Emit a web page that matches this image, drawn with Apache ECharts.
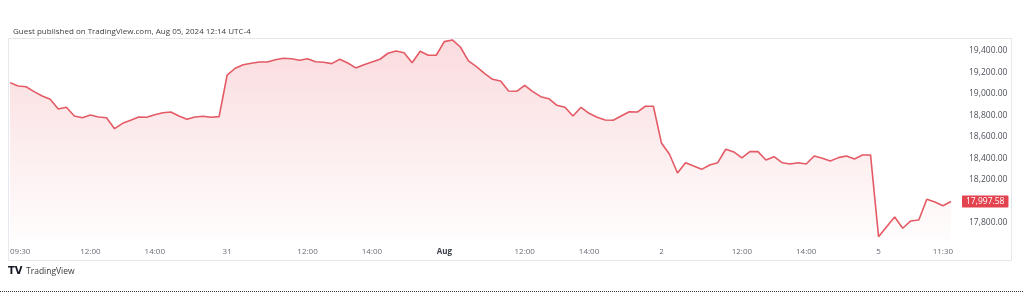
<!DOCTYPE html>
<html>
<head>
<meta charset="utf-8">
<script src="https://cdn.jsdelivr.net/npm/echarts@6/dist/echarts.min.js"></script>
<style>
html,body{margin:0;padding:0;background:#fff;}
#chart{width:1024px;height:306px;}
</style>
</head>
<body>
<div id="chart"></div>
<script>
// 15-minute closes, one array per session (09:30 ... 16:00)
var jul30 = [19105,19074,19067,19021,18981,18950,18859,18875,18794,18778,18803,18785,18778,18676,18726,18754,18785,18782,18806,18825,18831,18794,18763,18785,18791,18782,18788];
var jul31 = [19176,19239,19272,19285,19297,19297,19319,19332,19328,19313,19328,19300,19295,19282,19323,19288,19242,19272,19297,19323,19379,19400,19384,19291,19397,19360,19360];
var aug01 = [19487,19503,19437,19307,19254,19192,19136,19120,19027,19024,19080,19021,18974,18955,18894,18875,18794,18875,18819,18782,18757,18754,18794,18834,18831,18885,18885];
var aug02 = [18543,18438,18263,18359,18328,18297,18338,18359,18484,18459,18403,18462,18462,18384,18415,18359,18347,18359,18347,18421,18400,18375,18406,18421,18393,18431,18431];
var aug05 = [17669,17762,17853,17748,17816,17825,18018,17993,17958,17997.58];
var lastPrice = 17997.58;

var barTimes = ['09:30','09:45','10:00','10:15','10:30','10:45','11:00','11:15','11:30','11:45','12:00','12:15','12:30','12:45','13:00','13:15','13:30','13:45','14:00','14:15','14:30','14:45','15:00','15:15','15:30','15:45','16:00'];
var sessions = ['Jul 30','Jul 31','Aug 1','Aug 2','Aug 5'];

var tickPositions = [0,10,18,27,37,45,54,64,72,81,91,99,108,116];
var tickLabels = ['09:30','12:00','14:00','31','12:00','14:00','Aug','12:00','14:00','2','12:00','14:00','5','11:30'];
var boldTicks = ['Aug'];

var priceTicks = [17800,18200,18400,18600,18800,19000,19200,19400];

var sessionValues = [jul30, jul31, aug01, aug02, aug05];
var categories = [];
var values = [];
sessionValues.forEach(function(arr, s){
  arr.forEach(function(v, i){
    categories.push(sessions[s] + ' ' + barTimes[i]);
    values.push(v);
  });
});
// one empty slot at the right edge (12:00 bar not yet printed)
categories.push('Aug 5 12:00');
values.push(null);

var labelAt = {};
tickPositions.forEach(function(p, k){ labelAt[p] = tickLabels[k]; });

var chart = echarts.init(document.getElementById('chart'), null, {renderer:'canvas'});
var FONT = '"Open Sans", "Liberation Sans", sans-serif';

chart.setOption({
  animation:false,
  backgroundColor:'#ffffff',
  title:{
    text:'Guest published on TradingView.com, Aug 05, 2024 12:14 UTC-4',
    left:8, top:23,
    textStyle:{fontSize:8, fontWeight:'normal', color:'#3f3f3f', fontFamily:FONT}
  },
  grid:{left:10, right:65, top:38, height:203, containLabel:false},
  xAxis:{
    type:'category',
    data:categories,
    boundaryGap:false,
    axisLine:{show:false},
    axisTick:{show:false},
    splitLine:{show:false},
    axisLabel:{
      interval:function(index){ return labelAt[index] !== undefined; },
      formatter:function(v, index){
        var t = labelAt[index];
        if (t === undefined) return '';
        return boldTicks.indexOf(t) >= 0 ? '{b|' + t + '}' : t;
      },
      alignMinLabel:'left',
      margin:7,
      fontSize:8,
      color:'#6a6d78',
      fontFamily:FONT,
      rich:{b:{fontSize:8, fontWeight:'bold', color:'#3a3d48', fontFamily:FONT}}
    }
  },
  yAxis:{
    type:'value',
    position:'right',
    min:17629, max:19521,
    axisLine:{show:false},
    axisTick:{show:false},
    splitLine:{show:false},
    axisLabel:{
      customValues:priceTicks,
      margin:10,
      fontSize:8.5,
      color:'#4f525c',
      fontFamily:FONT,
      formatter:function(v){
        return v.toLocaleString('en-US',{minimumFractionDigits:2, maximumFractionDigits:2});
      }
    }
  },
  series:[{
    type:'line',
    data:values,
    symbol:'none',
    connectNulls:false,
    lineStyle:{color:'#e45a65', width:1.6},
    itemStyle:{color:'#e45a65'},
    areaStyle:{
      color:new echarts.graphic.LinearGradient(0,0,0,1,[
        {offset:0, color:'rgba(232,88,100,0.30)'},
        {offset:1, color:'rgba(232,88,100,0.02)'}
      ])
    },
    markLine:{
      silent:true,
      symbol:['none','none'],
      lineStyle:{color:'rgba(0,0,0,0)', width:0},
      label:{
        show:true,
        position:'end',
        distance:3,
        formatter:function(){
          return lastPrice.toLocaleString('en-US',{minimumFractionDigits:2, maximumFractionDigits:2});
        },
        backgroundColor:'#e2434f',
        color:'#ffffff',
        fontSize:8.5,
        fontFamily:FONT,
        padding:[2,4,1,4],
        borderRadius:1
      },
      data:[{yAxis:lastPrice}]
    }
  }],
  graphic:[
    {type:'rect', shape:{x:8.5, y:38.5, width:1003, height:222},
     style:{fill:'none', stroke:'#e6e8ee', lineWidth:1}, silent:true, z:-1},
    {type:'text', left:8, top:266,
     style:{text:'TV', fontSize:10, fontWeight:900, fill:'#131722', fontFamily:'"DejaVu Sans", sans-serif'}},
    {type:'text', left:26, top:267,
     style:{text:'TradingView', fontSize:8.5, fill:'#3a3a3a', fontFamily:FONT}},
    {type:'line', shape:{x1:0, y1:291.5, x2:1024, y2:291.5},
     style:{stroke:'#333333', lineWidth:1, lineDash:[1,1]}, silent:true}
  ]
});
</script>
</body>
</html>
